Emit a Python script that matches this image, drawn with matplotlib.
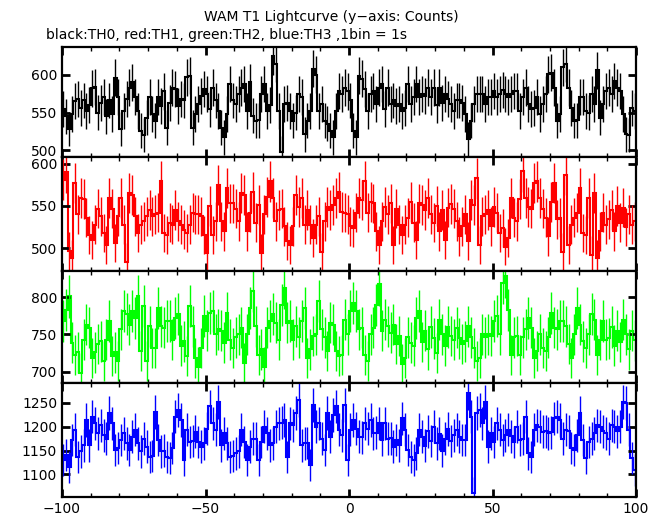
import numpy as np
import matplotlib
matplotlib.use('Agg')
import matplotlib.pyplot as plt
from matplotlib.ticker import MultipleLocator, NullLocator

# time bins, 1 s each, -100 .. 100 s
edges = np.arange(-100, 101, 1)

th0 = [555, 545, 528, 548, 565, 568, 556, 566, 552, 560, 582, 584, 550, 563, 570, 545, 566, 548, 596, 570,
       528, 552, 568, 583, 590, 570, 552, 526, 520, 543, 570, 548, 539, 570, 559, 578, 530, 563, 583, 581,
       559, 568, 566, 597, 599, 530, 548, 561, 572, 581, 575, 555, 583, 566, 552, 530, 517, 548, 588, 566,
       561, 575, 583, 588, 552, 590, 546, 539, 540, 575, 588, 552, 560, 625, 615, 552, 497, 561, 563, 552,
       539, 550, 575, 570, 521, 539, 552, 608, 600, 552, 561, 539, 535, 526, 517, 552, 579, 575, 583, 578,
       566, 526, 517, 599, 595, 581, 552, 575, 579, 561, 583, 588, 555, 583, 561, 566, 559, 561, 552, 556,
       588, 561, 570, 588, 570, 575, 572, 583, 570, 583, 560, 583, 563, 575, 568, 561, 552, 566, 566, 563,
       548, 515, 539, 561, 575, 575, 575, 561, 570, 570, 579, 570, 575, 580, 575, 570, 575, 579, 579, 552,
       570, 583, 561, 555, 556, 570, 548, 561, 575, 601, 603, 583, 539, 548, 610, 615, 583, 556, 539, 540,
       570, 570, 552, 550, 575, 561, 606, 543, 561, 579, 583, 575, 592, 583, 579, 548, 521, 520, 556, 552]

th1 = [581, 590, 497, 488, 577, 540, 559, 558, 536, 516, 510, 528, 547, 538, 518, 504, 559, 547, 506, 538,
       559, 528, 484, 565, 563, 538, 518, 528, 532, 538, 545, 538, 540, 542, 579, 518, 516, 530, 528, 545,
       532, 528, 522, 518, 528, 542, 540, 540, 538, 516, 494, 550, 516, 532, 575, 532, 520, 571, 553, 553,
       547, 532, 565, 563, 520, 542, 567, 530, 551, 494, 540, 561, 579, 559, 532, 545, 547, 526, 508, 504,
       526, 563, 549, 559, 528, 545, 528, 512, 528, 538, 496, 532, 549, 545, 551, 559, 567, 543, 542, 540,
       526, 524, 542, 559, 557, 579, 542, 555, 553, 520, 504, 532, 549, 540, 553, 504, 547, 528, 516, 528,
       536, 555, 530, 510, 553, 551, 545, 560, 540, 530, 550, 520, 545, 510, 548, 552, 547, 532, 514, 526,
       540, 508, 557, 551, 583, 504, 538, 540, 545, 526, 549, 542, 518, 524, 502, 512, 559, 536, 532, 558,
       591, 559, 549, 547, 577, 579, 559, 547, 536, 514, 555, 577, 534, 536, 496, 587, 504, 528, 536, 542,
       571, 518, 516, 559, 492, 565, 488, 520, 542, 528, 534, 545, 520, 550, 530, 548, 525, 540, 528, 532]

th2 = [768, 783, 801, 739, 723, 726, 699, 743, 763, 759, 719, 726, 737, 741, 715, 743, 768, 721, 726, 715,
       757, 781, 777, 763, 781, 772, 801, 728, 788, 715, 761, 732, 732, 786, 761, 759, 768, 768, 743, 772,
       777, 735, 741, 721, 788, 761, 719, 706, 732, 775, 755, 779, 781, 750, 757, 755, 739, 779, 743, 732,
       746, 750, 759, 712, 750, 786, 808, 761, 723, 730, 706, 759, 768, 777, 766, 743, 790, 812, 766, 768,
       743, 761, 746, 768, 786, 719, 730, 748, 750, 795, 757, 746, 728, 766, 763, 728, 721, 722, 770, 750,
       781, 792, 781, 757, 759, 723, 715, 750, 759, 790, 817, 755, 770, 761, 752, 763, 737, 748, 710, 719,
       746, 739, 735, 772, 781, 740, 755, 730, 760, 745, 725, 770, 750, 735, 760, 748, 743, 759, 745, 737,
       741, 761, 746, 732, 715, 719, 750, 746, 750, 748, 768, 775, 750, 819, 828, 783, 723, 746, 748, 723,
       746, 757, 772, 759, 719, 728, 750, 732, 728, 746, 779, 759, 757, 768, 768, 761, 737, 719, 750, 786,
       763, 741, 732, 750, 777, 770, 723, 743, 768, 743, 745, 760, 735, 755, 740, 770, 750, 730, 755, 742]

th3 = [1130, 1141, 1116, 1172, 1193, 1137, 1148, 1161, 1214, 1161, 1221, 1207, 1186, 1203, 1182, 1175, 1228, 1207, 1151, 1155,
       1172, 1186, 1165, 1151, 1179, 1193, 1165, 1148, 1175, 1158, 1137, 1138, 1231, 1172, 1148, 1150, 1137, 1134, 1155, 1221,
       1235, 1214, 1130, 1193, 1168, 1170, 1189, 1168, 1158, 1165, 1196, 1242, 1207, 1193, 1252, 1161, 1186, 1165, 1137, 1138,
       1144, 1148, 1193, 1168, 1130, 1158, 1175, 1175, 1130, 1168, 1200, 1186, 1161, 1165, 1200, 1207, 1208, 1214, 1137, 1207,
       1203, 1228, 1256, 1161, 1165, 1166, 1120, 1245, 1200, 1207, 1175, 1151, 1228, 1179, 1224, 1242, 1193, 1182, 1245, 1130,
       1193, 1214, 1196, 1179, 1178, 1207, 1196, 1214, 1186, 1187, 1207, 1172, 1207, 1175, 1176, 1158, 1172, 1161, 1217, 1193,
       1151, 1137, 1130, 1144, 1193, 1179, 1160, 1190, 1170, 1200, 1165, 1185, 1150, 1175, 1195, 1170, 1182, 1193, 1179, 1172,
       1172, 1270, 1221, 1062, 1228, 1235, 1207, 1252, 1158, 1186, 1168, 1207, 1193, 1172, 1182, 1193, 1180, 1168, 1200, 1172,
       1175, 1221, 1144, 1137, 1193, 1203, 1200, 1189, 1190, 1186, 1188, 1217, 1221, 1214, 1175, 1193, 1190, 1155, 1151, 1182,
       1228, 1172, 1134, 1168, 1175, 1186, 1203, 1200, 1190, 1186, 1175, 1203, 1200, 1190, 1200, 1252, 1250, 1193, 1135, 1110]

series = [th0, th1, th2, th3]
colors = ['black', '#ff0000', '#00ff00', '#0000ff']
ylims = [(491, 637), (473, 608), (685, 835), (1053, 1291)]
yticks = [[500, 550, 600], [500, 550, 600], [700, 750, 800], [1100, 1150, 1200, 1250]]

fig = plt.figure(figsize=(6.62, 5.15), dpi=100)
fig.text(0.5, 0.967, 'WAM T1 Lightcurve (y\u2212axis: Counts)', ha='center', va='center', fontsize=10)
fig.text(0.069, 0.932, 'black:TH0, red:TH1, green:TH2, blue:TH3 ,1bin = 1s', ha='left', va='center', fontsize=10)

left, width = 62 / 662, 574 / 662
top_px = [47, 157, 271, 383, 497]
centers = edges[:-1] + 0.5

for i in range(4):
    bottom = 1 - top_px[i + 1] / 515
    height = (top_px[i + 1] - top_px[i]) / 515
    ax = fig.add_axes([left, bottom, width, height])
    vals = np.array(series[i], dtype=float)
    err = np.sqrt(vals)
    ax.stairs(vals, edges, baseline=None, color=colors[i], lw=1.5)
    ax.vlines(centers, vals - err, vals + err, color=colors[i], lw=1.0)
    ax.set_xlim(-100, 100)
    ax.set_ylim(*ylims[i])
    ax.set_yticks(yticks[i])
    ax.xaxis.set_major_locator(MultipleLocator(50))
    ax.xaxis.set_minor_locator(MultipleLocator(10))
    ax.yaxis.set_minor_locator(NullLocator())
    ax.tick_params(which='both', direction='in', top=True, right=True, labelsize=10)
    ax.tick_params(which='major', length=6, width=2)
    ax.tick_params(which='minor', length=3, width=1)
    for s in ax.spines.values():
        s.set_linewidth(1.6)
    if i < 3:
        ax.set_xticklabels([])

plt.savefig('out.png', dpi=100)
